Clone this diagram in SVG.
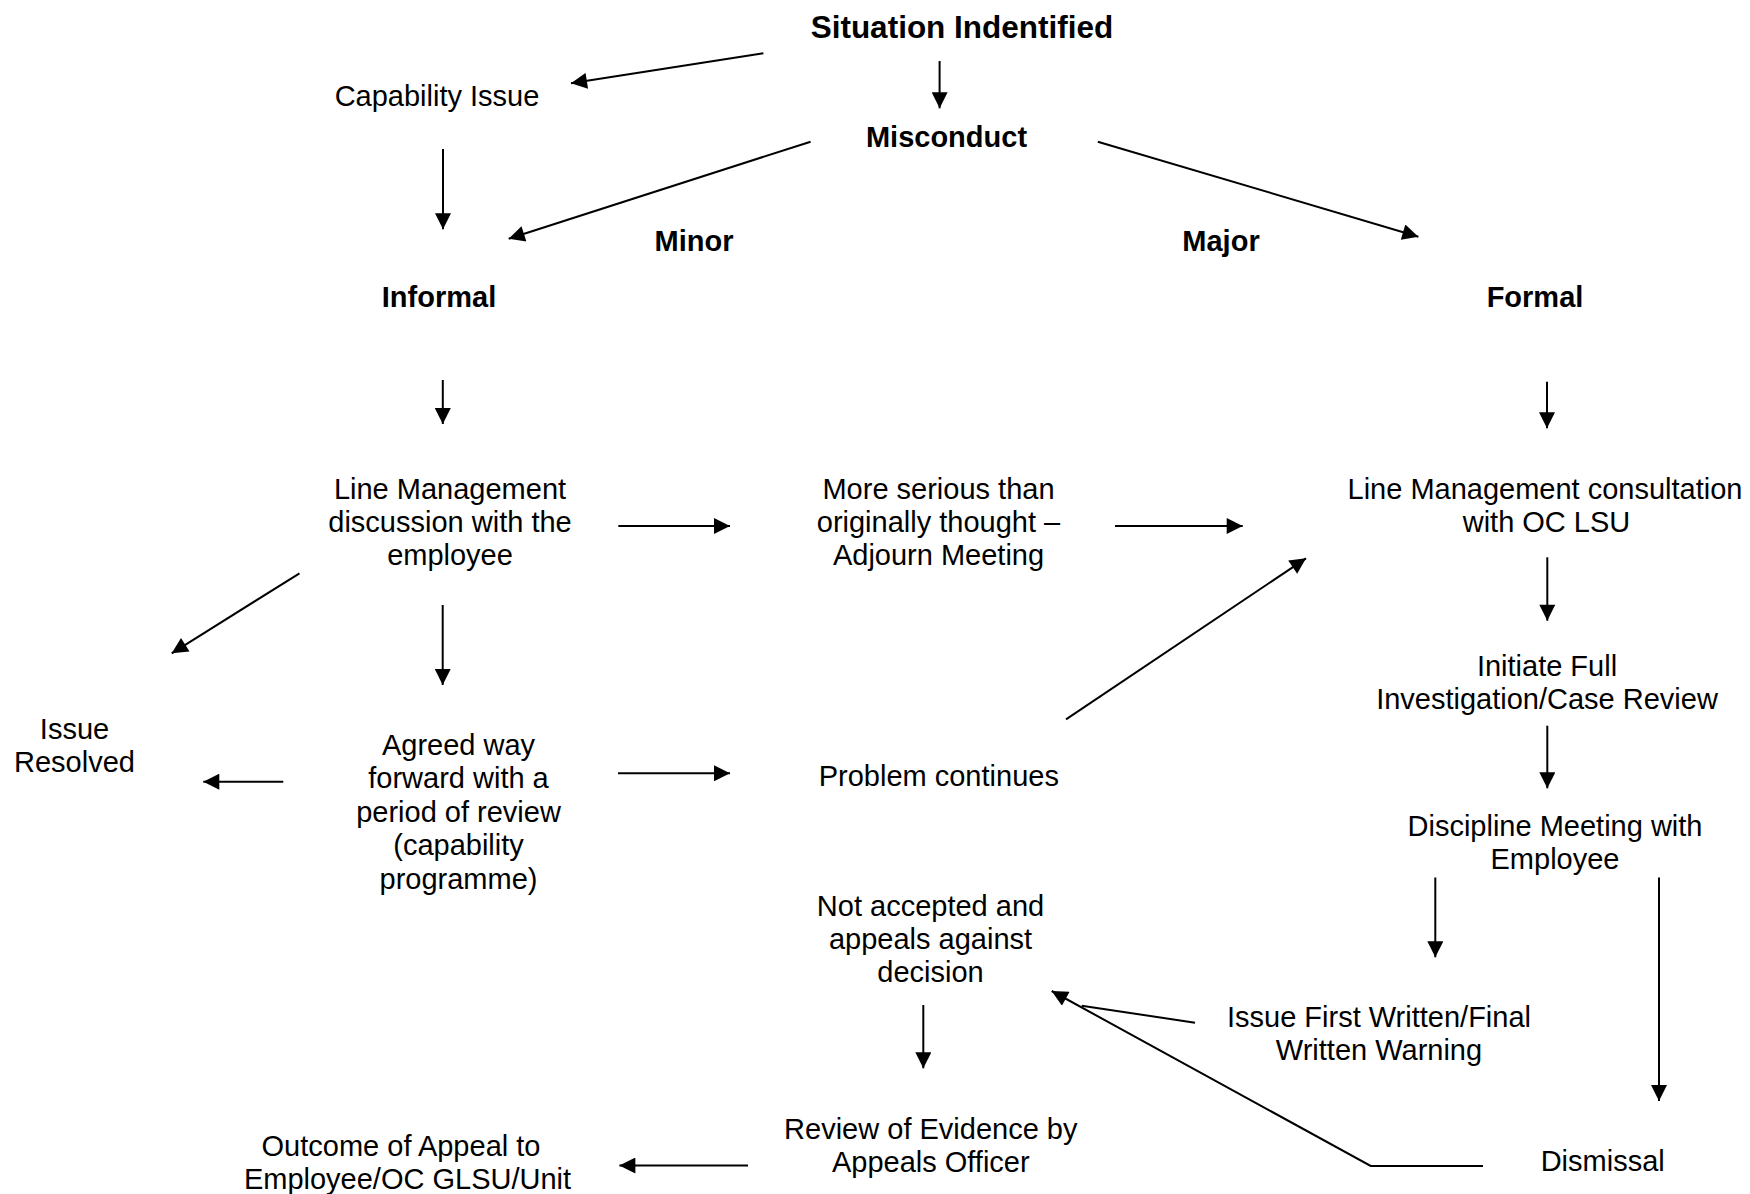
<svg xmlns="http://www.w3.org/2000/svg" width="1750" height="1194" viewBox="0 0 1750 1194">
<style>
text{font-family:"Liberation Sans",Arial,sans-serif;font-size:29px;fill:#000;text-anchor:middle}
.b{font-weight:bold}
.t{font-weight:bold;font-size:31.5px}
.c line,.c polyline{stroke:#000;stroke-width:2;fill:none}
.c .a{marker-end:url(#ah)}
</style>
<defs>
<marker id="ah" markerUnits="userSpaceOnUse" markerWidth="17" markerHeight="16" refX="16" refY="8" orient="auto" viewBox="0 0 16 16">
<path d="M0,0 L16,8 L0,16 z" fill="#000"/>
</marker>
</defs>
<rect width="1750" height="1194" fill="#fff"/>
<g id="n-situation"><text class="t" x="962" y="37.5">Situation Indentified</text></g>
<g id="n-capability"><text x="437" y="106">Capability Issue</text></g>
<g id="n-misconduct"><text class="b" x="946.5" y="147">Misconduct</text></g>
<g id="n-minor"><text class="b" x="694" y="251">Minor</text></g>
<g id="n-major"><text class="b" x="1221" y="251">Major</text></g>
<g id="n-informal"><text class="b" x="439" y="306.5">Informal</text></g>
<g id="n-formal"><text class="b" x="1535" y="306.5">Formal</text></g>
<g id="n-lmdisc"><text x="450" y="499.3"><tspan x="450">Line Management</tspan><tspan x="450" dy="33">discussion with the</tspan><tspan x="450" dy="33">employee</tspan></text></g>
<g id="n-serious"><text x="938.5" y="499.3"><tspan x="938.5">More serious than</tspan><tspan x="938.5" dy="33">originally thought –</tspan><tspan x="938.5" dy="33">Adjourn Meeting</tspan></text></g>
<g id="n-lmc"><text x="1545" y="498.5"><tspan x="1545">Line Management consultation</tspan><tspan x="1546.5" dy="33">with OC LSU</tspan></text></g>
<g id="n-resolved"><text x="74.5" y="739"><tspan x="74.5">Issue</tspan><tspan x="74.5" dy="33.4">Resolved</tspan></text></g>
<g id="n-agreed"><text x="458.5" y="754.5"><tspan x="458.5">Agreed way</tspan><tspan x="458.5" dy="33.5">forward with a</tspan><tspan x="458.5" dy="33.5">period of review</tspan><tspan x="458.5" dy="33.5">(capability</tspan><tspan x="458.5" dy="33.5">programme)</tspan></text></g>
<g id="n-problem"><text x="938.8" y="786">Problem continues</text></g>
<g id="n-initiate"><text x="1547" y="675.5"><tspan x="1547">Initiate Full</tspan><tspan x="1547" dy="33">Investigation/Case Review</tspan></text></g>
<g id="n-discipline"><text x="1555" y="835.5"><tspan x="1555">Discipline Meeting with</tspan><tspan x="1555" dy="33">Employee</tspan></text></g>
<g id="n-notaccepted"><text x="930.5" y="915.5"><tspan x="930.5">Not accepted and</tspan><tspan x="930.5" dy="33">appeals against</tspan><tspan x="930.5" dy="33">decision</tspan></text></g>
<g id="n-warning"><text x="1379" y="1027"><tspan x="1379">Issue First Written/Final</tspan><tspan x="1379" dy="33">Written Warning</tspan></text></g>
<g id="n-review"><text x="930.8" y="1138.5"><tspan x="930.8">Review of Evidence by</tspan><tspan x="930.8" dy="33">Appeals Officer</tspan></text></g>
<g id="n-outcome"><text x="405" y="1155.5"><tspan x="401">Outcome of Appeal to</tspan><tspan x="407.5" dy="33">Employee/OC GLSU/Unit</tspan></text></g>
<g id="n-dismissal"><text x="1602.7" y="1171">Dismissal</text></g>
<g id="connectors" class="c">
<line class="a" x1="763.4" y1="53.3" x2="571" y2="83.3"/>
<line class="a" x1="939.6" y1="61" x2="939.6" y2="108.3"/>
<line class="a" x1="443" y1="149" x2="443" y2="229.3"/>
<line class="a" x1="810.6" y1="141.7" x2="508.7" y2="238.7"/>
<line class="a" x1="1097.8" y1="141.7" x2="1418.4" y2="236.7"/>
<line class="a" x1="442.8" y1="380" x2="442.8" y2="424"/>
<line class="a" x1="1547" y1="381.7" x2="1547" y2="428.3"/>
<line class="a" x1="618.3" y1="526" x2="730" y2="526"/>
<line class="a" x1="1115" y1="526" x2="1242.7" y2="526"/>
<line class="a" x1="299.5" y1="573.3" x2="171.7" y2="653.3"/>
<line class="a" x1="442.7" y1="605" x2="442.7" y2="685"/>
<line class="a" x1="1547.3" y1="557.3" x2="1547.3" y2="620.7"/>
<line class="a" x1="1066" y1="719.3" x2="1306" y2="558.3"/>
<line class="a" x1="1547.3" y1="725.7" x2="1547.3" y2="788.3"/>
<line class="a" x1="618" y1="773.3" x2="730" y2="773.3"/>
<line class="a" x1="283.3" y1="781.7" x2="203.3" y2="781.7"/>
<line class="a" x1="1435.3" y1="877.5" x2="1435.3" y2="957.3"/>
<line class="a" x1="1659" y1="877.5" x2="1659" y2="1101"/>
<line class="a" x1="923.3" y1="1005" x2="923.3" y2="1068.3"/>
<line x1="1195" y1="1022.7" x2="1081.7" y2="1005.7"/>
<polyline class="a" points="1483,1166 1370.7,1166 1051.7,991"/>
<line class="a" x1="748" y1="1165.5" x2="619.4" y2="1165.5"/>
</g>
</svg>
